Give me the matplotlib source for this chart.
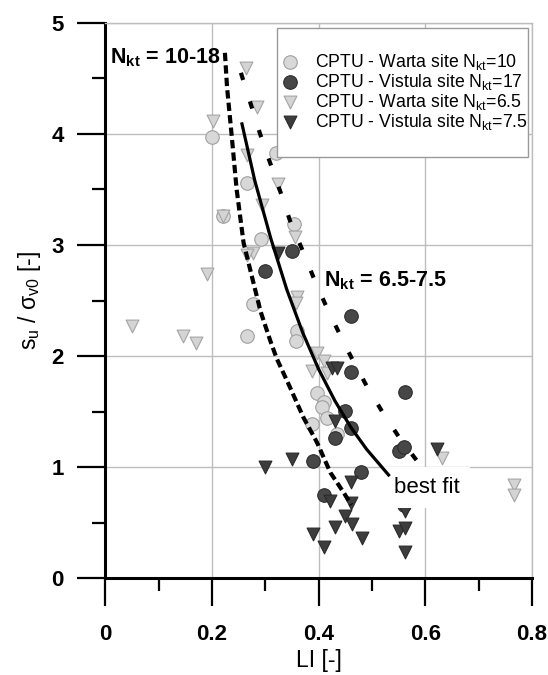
import matplotlib
matplotlib.use("Agg")
import matplotlib.pyplot as plt
from matplotlib.patches import Rectangle

plt.rcParams['font.family'] = ['Liberation Sans', 'DejaVu Sans']
plt.rcParams['mathtext.fontset'] = 'custom'
plt.rcParams['mathtext.rm'] = 'Liberation Sans'
plt.rcParams['mathtext.it'] = 'Liberation Sans'
plt.rcParams['mathtext.bf'] = 'Liberation Sans:bold'

# CPTU - Warta site Nkt=10 (light circles)
warta10_li = [0.200, 0.320, 0.265, 0.221, 0.354, 0.291, 0.276, 0.265, 0.360, 0.358,
              0.397, 0.409, 0.406, 0.415, 0.387, 0.434]
warta10_su = [3.97, 3.83, 3.56, 3.26, 3.19, 3.05, 2.47, 2.18, 2.23, 2.14,
              1.67, 1.59, 1.54, 1.44, 1.39, 1.30]

# CPTU - Vistula site Nkt=17 (dark circles)
vist17_li = [0.350, 0.300, 0.460, 0.460, 0.561, 0.450, 0.460, 0.431, 0.390, 0.480,
             0.409, 0.550, 0.559, 0.559]
vist17_su = [2.95, 2.77, 2.36, 1.86, 1.68, 1.51, 1.35, 1.26, 1.06, 0.96,
             0.75, 1.15, 1.18, 0.66]

# CPTU - Warta site Nkt=6.5 (light triangles)
warta65_li = [0.264, 0.284, 0.201, 0.265, 0.323, 0.293, 0.221, 0.355, 0.277, 0.265,
              0.191, 0.360, 0.358, 0.050, 0.146, 0.170, 0.397, 0.409, 0.387, 0.415,
              0.631, 0.767, 0.767]
warta65_su = [4.59, 4.24, 4.12, 3.81, 3.55, 3.36, 3.26, 3.07, 2.93, 2.91,
              2.74, 2.53, 2.48, 2.27, 2.18, 2.12, 2.03, 1.96, 1.87, 1.85,
              1.08, 0.84, 0.75]

# CPTU - Vistula site Nkt=7.5 (dark triangles)
vist75_li = [0.323, 0.425, 0.434, 0.431, 0.300, 0.350, 0.460, 0.422, 0.461, 0.450,
             0.462, 0.430, 0.390, 0.481, 0.409, 0.550, 0.561, 0.561, 0.621, 0.561]
vist75_su = [2.93, 1.89, 1.89, 1.42, 1.00, 1.07, 0.87, 0.70, 0.68, 0.56,
             0.49, 0.46, 0.40, 0.36, 0.28, 0.43, 0.45, 0.24, 1.16, 0.61]

# curves
fit_li = [0.256, 0.280, 0.310, 0.340, 0.370, 0.400, 0.430, 0.460, 0.490, 0.531]
fit_su = [4.09, 3.58, 3.06, 2.60, 2.21, 1.88, 1.60, 1.36, 1.16, 0.93]

low_li = [0.224, 0.228, 0.237, 0.246, 0.259, 0.277, 0.291, 0.309, 0.321, 0.346,
          0.371, 0.397, 0.422, 0.447, 0.461]
low_su = [4.73, 4.42, 3.97, 3.50, 3.02, 2.67, 2.40, 2.14, 1.98, 1.72,
          1.45, 1.22, 0.95, 0.77, 0.66]

up_li = [0.254, 0.273, 0.290, 0.308, 0.328, 0.346, 0.368, 0.390, 0.412, 0.437,
         0.462, 0.490, 0.519, 0.552, 0.587]
up_su = [4.55, 4.26, 4.00, 3.75, 3.48, 3.22, 2.97, 2.71, 2.47, 2.22,
         1.98, 1.73, 1.50, 1.26, 1.04]

fig = plt.figure(figsize=(5.48, 6.75), dpi=100)
ax = fig.add_axes([0.1925, 0.1433, 0.7783, 0.8229])

ax.scatter(warta10_li, warta10_su, s=95, marker='o', facecolor='#d8d8d8', edgecolor='#a0a0a0',
           linewidth=0.8, zorder=2, label=r'CPTU - Warta site N$_{\mathregular{kt}}$=10')
ax.scatter(vist17_li, vist17_su, s=95, marker='o', facecolor='#474747', edgecolor='#2c2c2c',
           linewidth=0.8, zorder=2.1, label=r'CPTU - Vistula site N$_{\mathregular{kt}}$=17')
ax.scatter(warta65_li, warta65_su, s=85, marker='v', facecolor='#d4d4d4', edgecolor='#a4a4a4',
           linewidth=0.8, zorder=2.2, label=r'CPTU - Warta site N$_{\mathregular{kt}}$=6.5')
ax.scatter(vist75_li, vist75_su, s=85, marker='v', facecolor='#3d3d3d', edgecolor='#2a2a2a',
           linewidth=0.8, zorder=2.3, label=r'CPTU - Vistula site N$_{\mathregular{kt}}$=7.5')

ax.plot(fit_li, fit_su, color='black', lw=2.3, zorder=3)
ax.plot(low_li, low_su, color='black', lw=3, linestyle=(0, (2, 1)), zorder=3)
ax.plot(up_li, up_su, color='black', lw=3, linestyle=(0, (1.8, 5.4)), zorder=3)

ax.text(0.009, 4.635, r'$\mathbf{N_{kt}}$ = 10-18', fontsize=15.5, fontweight='bold',
        ha='left', va='baseline')
ax.text(0.409, 2.625, r'$\mathbf{N_{kt}}$ = 6.5-7.5', fontsize=15.5, fontweight='bold',
        ha='left', va='baseline')
ax.text(0.542, 0.77, 'best fit', fontsize=16, ha='left', va='baseline', zorder=2.5,
        bbox=dict(boxstyle='square,pad=0.45', facecolor='white', edgecolor='none'))

ax.set_xlim(0, 0.8)
ax.set_ylim(0, 5)
ax.set_xticks([0, 0.2, 0.4, 0.6, 0.8])
ax.set_xticklabels(['0', '0.2', '0.4', '0.6', '0.8'])
ax.set_xticks([0.1, 0.3, 0.5, 0.7], minor=True)
ax.set_yticks([0, 1, 2, 3, 4, 5])
ax.set_yticks([0.5, 1.5, 2.5, 3.5, 4.5], minor=True)

ax.grid(True, which='major', color='#bdbdbd', lw=1.0, zorder=0)
ax.set_axisbelow(True)
for side in ['top', 'right']:
    ax.spines[side].set_color('#bdbdbd')
    ax.spines[side].set_linewidth(1.0)
for side in ['left', 'bottom']:
    ax.spines[side].set_linewidth(2.2)

ax.tick_params(which='major', direction='out', length=20, width=1.6, labelsize=16)
ax.tick_params(which='minor', direction='out', length=9.5, width=1.6)
ax.tick_params(axis='x', which='major', pad=13)
ax.tick_params(axis='y', which='major', pad=10)
for lab in ax.get_xticklabels() + ax.get_yticklabels():
    lab.set_fontweight('bold')

ax.set_xlabel('LI [-]', fontsize=16.5, labelpad=3)
ax.set_ylabel(r's$_\mathregular{u}$ / σ$_\mathregular{v0}$ [-]', fontsize=16.5, labelpad=6)

# legend box: frame drawn separately, entries placed inside it
ax.add_patch(Rectangle((0.402, 0.7584), 0.5886, 0.2322, transform=ax.transAxes,
                       facecolor='white', edgecolor='#9a9a9a', lw=1.0, zorder=4))
leg = ax.legend(loc='upper left', bbox_to_anchor=(0.416, 0.9474), borderaxespad=0,
                fontsize=12.7, frameon=False, borderpad=0, handlelength=0.8,
                handletextpad=1.0, labelspacing=0.0, scatterpoints=1)
leg.set_zorder(5)

fig.savefig('out.png', dpi=100)
